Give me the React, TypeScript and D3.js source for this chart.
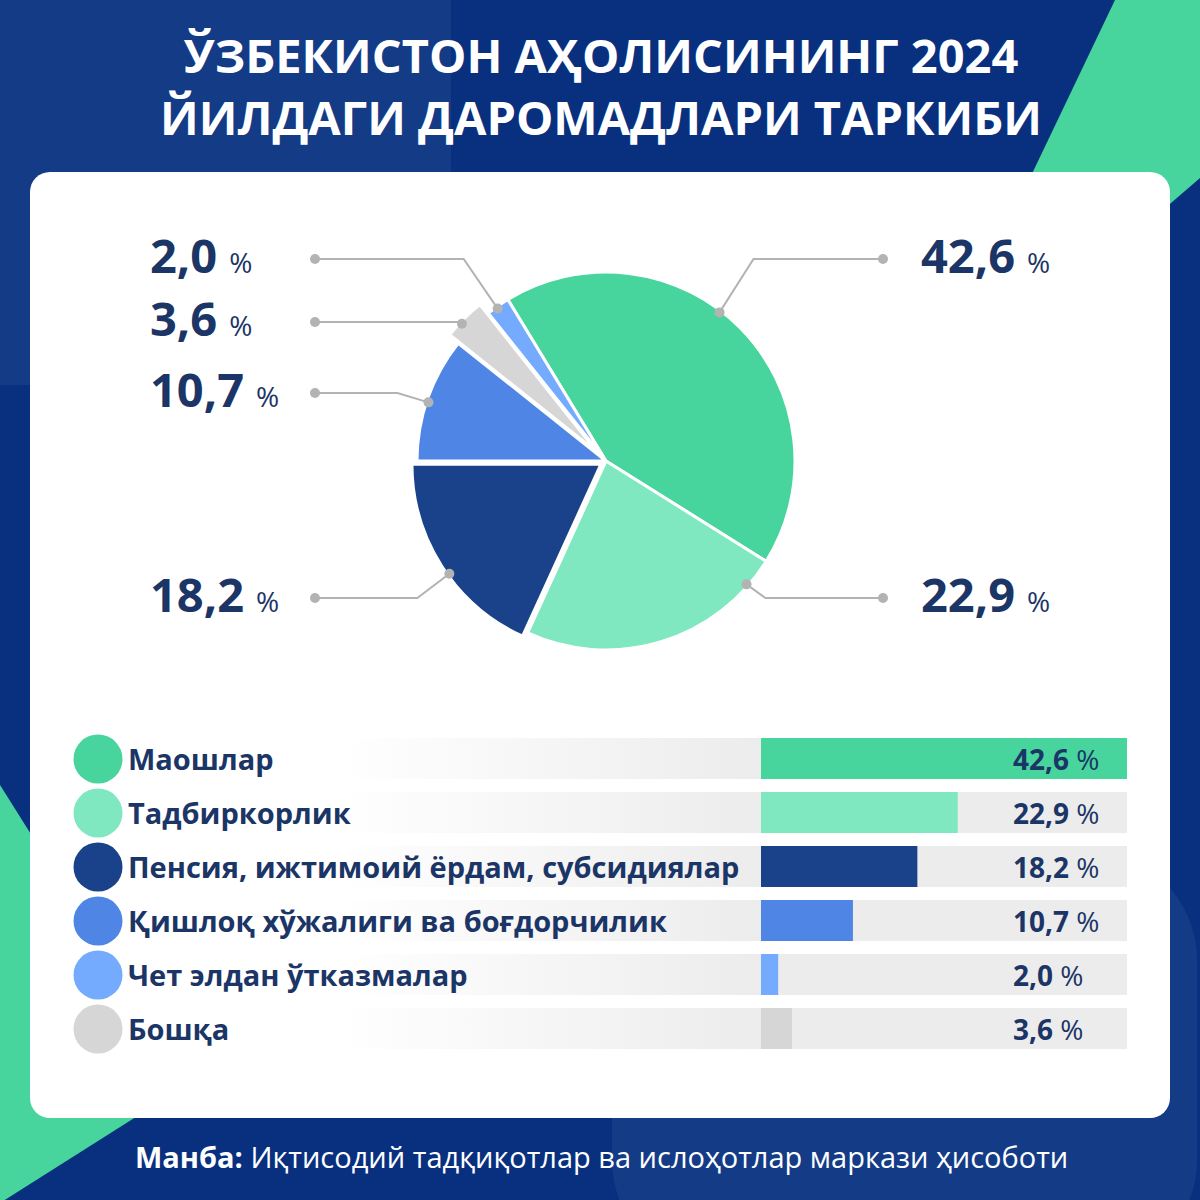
import React from "react";
import * as d3 from "d3";

const categories = [
  "Маошлар",
  "Тадбиркорлик",
  "Пенсия, ижтимоий ёрдам, субсидиялар",
  "Қишлоқ хўжалиги ва боғдорчилик",
  "Чет элдан ўтказмалар",
  "Бошқа",
];
const values = [42.6, 22.9, 18.2, 10.7, 2.0, 3.6];
const valueLabels = ["42,6", "22,9", "18,2", "10,7", "2,0", "3,6"];
const colors = ["#48d59d", "#80e8c1", "#1a428a", "#4f86e6", "#75abff", "#d6d6d6"];
// pie order clockwise from the start angle
const pieOrder = [0, 1, 2, 3, 5, 4];
const titleLines = ["ЎЗБЕКИСТОН АҲОЛИСИНИНГ 2024", "ЙИЛДАГИ ДАРОМАДЛАРИ ТАРКИБИ"];
const sourceBold = "Манба:";
const sourceText = " Иқтисодий тадқиқотлар ва ислоҳотлар маркази ҳисоботи";

// callout layout (per category index)
const calloutY = [259, 598, 598, 393, 259, 322];
const calloutSide = [1, 1, -1, -1, -1, -1];
const calloutAngleShift = [-8, -32, -3, -1, -0.5, -1.4];
const calloutElbowDx = [34, 19, -32, -31, -34, 0];
const explode = [0, 0, 6, 0, 0, 12];

const NAVY = "#1b3566";
const FONT = "'Open Sans', sans-serif";

export default function App() {
  const W = 1200;
  const cx = 606;
  const cy = 461;
  const R = 189;
  const start = (-31.3 * Math.PI) / 180;

  const pieData = pieOrder.map((i) => ({ i, v: values[i] }));
  const arcs = d3
    .pie<{ i: number; v: number }>()
    .sort(null)
    .value((d) => d.v)
    .startAngle(start)
    .endAngle(start + 2 * Math.PI)(pieData);
  const arcGen = d3.arc<any>().innerRadius(0).outerRadius(R);

  const x = d3.scaleLinear().domain([0, d3.max(values)!]).range([0, 366]);
  const barX = 761;
  const rowY = d3.scaleLinear().domain([0, 1]).range([738, 792]);
  const rowH = 41;

  return (
    <svg
      width={W}
      height={1200}
      style={{ position: "absolute", left: 0, top: 0, display: "block" }}
      fontFamily={FONT}
    >
      <defs>
        <linearGradient id="rowg" gradientUnits="userSpaceOnUse" x1={340} x2={760} y1={0} y2={0}>
          <stop offset="0" stopColor="#ececec" stopOpacity={0} />
          <stop offset="1" stopColor="#ececec" stopOpacity={1} />
        </linearGradient>
      </defs>
      {/* background */}
      <rect x={0} y={0} width={1200} height={1200} fill="#08307f" />
      <rect x={0} y={0} width={451} height={385} fill="#133b86" />
      <rect x={612} y={850} width={585} height={420} rx={110} fill="#133b86" />
      <polygon points="1115,0 1200,0 1200,178 911,427" fill="#48d59d" />
      <polygon points="0,785 188,1084 0,1203" fill="#48d59d" />
      {/* card */}
      <rect x={30} y={172} width={1140} height={946} rx={20} fill="#ffffff" />

      {/* title */}
      {titleLines.map((t, k) => (
        <text
          key={k}
          x={601}
          y={73 + k * 62}
          textAnchor="middle"
          fill="#ffffff"
          fontWeight={700}
          fontSize={47}
        >
          {t}
        </text>
      ))}

      {/* pie */}
      <g>
        {arcs.map((a) => {
          const mid = (a.startAngle + a.endAngle) / 2;
          const e = explode[a.data.i];
          const dx = Math.sin(mid) * e;
          const dy = -Math.cos(mid) * e;
          return (
            <path
              key={a.data.i}
              d={arcGen(a) as string}
              transform={`translate(${cx + dx},${cy + dy})`}
              fill={colors[a.data.i]}
              stroke="#ffffff"
              strokeWidth={3}
              strokeLinejoin="round"
            />
          );
        })}
      </g>

      {/* callouts */}
      {arcs.map((a) => {
        const i = a.data.i;
        const mid = (a.startAngle + a.endAngle) / 2;
        const e = explode[i];
        const ang = mid + (calloutAngleShift[i] * Math.PI) / 180;
        const rr = R - 2 + e;
        const px = cx + Math.sin(ang) * rr;
        const py = cy - Math.cos(ang) * rr;
        const ly = calloutY[i];
        const side = calloutSide[i];
        const ex = px + calloutElbowDx[i];
        const endX = side > 0 ? 883 : 315;
        const tx = side > 0 ? 921 : 150;
        return (
          <g key={"c" + i}>
            <polyline
              points={`${px},${py} ${ex},${ly} ${endX},${ly}`}
              fill="none"
              stroke="#b3b3b3"
              strokeWidth={2}
            />
            <circle cx={px} cy={py} r={5} fill="#b3b3b3" />
            <circle cx={endX} cy={ly} r={5} fill="#b3b3b3" />
            <text x={tx} y={ly + 14} fill={NAVY}>
              <tspan fontWeight={700} fontSize={47}>
                {valueLabels[i]}
              </tspan>
              <tspan fontWeight={400} fontSize={28} dx={12}>
                %
              </tspan>
            </text>
          </g>
        );
      })}

      {/* legend bars */}
      {categories.map((c, i) => {
        const y0 = rowY(i);
        return (
          <g key={"r" + i}>
            <rect x={340} y={y0} width={420} height={rowH} fill="url(#rowg)" />
            <rect x={760} y={y0} width={367} height={rowH} fill="#ececec" />
            <rect x={barX} y={y0} width={x(values[i])} height={rowH} fill={colors[i]} />
            <circle cx={98} cy={y0 + 21} r={24.5} fill={colors[i]} />
            <text x={128} y={y0 + 32} fill={NAVY} fontWeight={700} fontSize={29}>
              {c}
            </text>
            <text x={1013} y={y0 + 32} fill={NAVY} fontSize={28}>
              <tspan fontWeight={700}>{valueLabels[i]}</tspan>
              <tspan fontWeight={400}> %</tspan>
            </text>
          </g>
        );
      })}

      {/* source */}
      <text x={135} y={1168} fill="#ffffff" fontSize={29}>
        <tspan fontWeight={700}>{sourceBold}</tspan>
        <tspan fontWeight={400}>{sourceText}</tspan>
      </text>
    </svg>
  );
}
